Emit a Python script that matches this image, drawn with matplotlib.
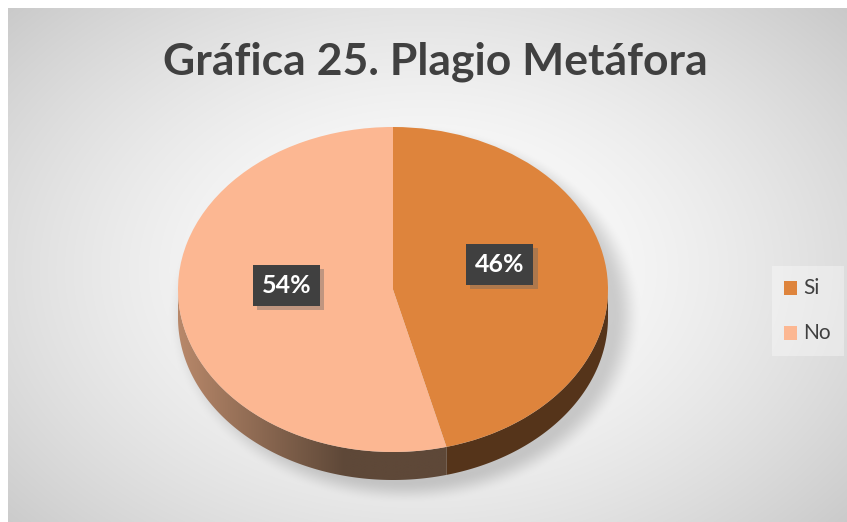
import numpy as np
import matplotlib
matplotlib.use("Agg")
import matplotlib.pyplot as plt
from matplotlib.patches import Polygon, Rectangle
import matplotlib.patheffects as pe

# ---------------- data ----------------
title = "Gráfica 25. Plagio Metáfora"
categories = ["Si", "No"]
values = [46, 54]
top_colors = ["#DE843C", "#FCB792"]
wall_colors = ["#55341A", None]   # None -> gradient wall

W, H = 847, 522
fig = plt.figure(figsize=(W / 100, H / 100), dpi=100)
fig.patch.set_facecolor("white")

# ---------------- background (pixel coords) ----------------
bg = fig.add_axes([0, 0, 1, 1])
bg.set_xlim(0, W)
bg.set_ylim(H, 0)
bg.axis("off")

X, Y = np.meshgrid(np.arange(W) + 0.5, np.arange(H) + 0.5)
cx0, cy0 = 424, 270
r = np.sqrt(((X - cx0) / 430.0) ** 2 + ((Y - cy0) / 300.0) ** 2)
r = np.clip(r / 1.35, 0, 1)
inten = 1 - 0.22 * r ** 1.6
# soft shadow below the pie
sd = np.sqrt(((X - 405) / 222.0) ** 2 + ((Y - 314) / 178.0) ** 2)
s = np.clip((1.07 - sd) / 0.13, 0, 1)
s = s * s * (3 - 2 * s)
inten = inten * (1 - 0.17 * s)
img = np.dstack([inten] * 3)
img[:8, :, :] = 1.0
img[:, :8, :] = 1.0
bg.imshow(img, extent=(0, W, H, 0), interpolation="bilinear", zorder=0)

# ---------------- pie axes ----------------
cx, cy, a, b = 393, 289.5, 215, 162.5
depth = 28 / b
ax = fig.add_axes([0, 0, 1, 1])
ax.patch.set_alpha(0)

wedges, texts, autotexts = ax.pie(
    values, colors=top_colors, startangle=90, counterclock=False,
    autopct="%1.0f%%", pctdistance=0.5,
    wedgeprops=dict(edgecolor="none", linewidth=0),
    textprops=dict(color="white", fontsize=18, fontweight="bold", family="Lato"),
)
for w in wedges:
    w.set_zorder(5)

# walls
fr = np.cumsum([0] + values) / float(sum(values)) * 360.0
for i in range(len(values)):
    t0, t1 = max(fr[i], 90.0), min(fr[i + 1], 270.0)
    if t1 <= t0:
        continue
    th = np.radians(np.linspace(t0, t1, 200))
    top = np.column_stack([np.sin(th), np.cos(th)])
    bot = np.column_stack([np.sin(th[::-1]), np.cos(th[::-1]) - depth])
    poly = Polygon(np.vstack([top, bot]), closed=True, facecolor=wall_colors[i] or "none",
                   edgecolor="none", zorder=3)
    ax.add_patch(poly)
    if wall_colors[i] is None:
        gx = np.linspace(0, 1, 256)
        c0 = np.array([0xB8, 0x88, 0x6A]) / 255.0
        c1 = np.array([0x5E, 0x48, 0x38]) / 255.0
        tt = np.clip(gx / 0.62, 0, 1)[:, None]
        grad = (c0 * (1 - tt) + c1 * tt)[None, :, :]
        xmax = top[:, 0].max()
        im = ax.imshow(grad, extent=(-1.0, xmax, -1.0 - depth - 0.05, 0.1),
                       aspect="auto", zorder=4, interpolation="bilinear")
        im.set_clip_path(poly)

# labels
for t in autotexts:
    x0, y0 = t.get_position()
    t.set_position((x0, y0 + 0.09))
    t.set_zorder(8)
    t.set_bbox(dict(boxstyle="square,pad=0.36", fc="#404040", ec="none"))
    t.get_bbox_patch().set_path_effects(
        [pe.withSimplePatchShadow(offset=(3, -3), shadow_rgbFace="#666666", alpha=0.4)])

ax.set_aspect("auto")
ax.set_xlim((0 - cx) / a, (W - cx) / a)
ax.set_ylim((cy - H) / b, cy / b)
ax.axis("off")

# ---------------- title ----------------
fig.text(435 / W, 1 - 62 / H, title, ha="center", va="center",
         fontsize=32, fontweight="bold", color="#404040", family="Lato")

# ---------------- legend ----------------
bg.add_patch(Rectangle((772, 266), 72, 90, facecolor="white", alpha=0.35,
                       edgecolor="none", zorder=2))
leg_y = [288, 333]
for cat, col, yy in zip(categories, top_colors, leg_y):
    bg.add_patch(Rectangle((784, yy - 7), 13.5, 13.5, facecolor=col, edgecolor="none", zorder=3))
    bg.text(803, yy, cat, fontsize=15, color="#404040", va="center", ha="left",
            family="Lato", zorder=3)

fig.savefig("out.png", dpi=100)
